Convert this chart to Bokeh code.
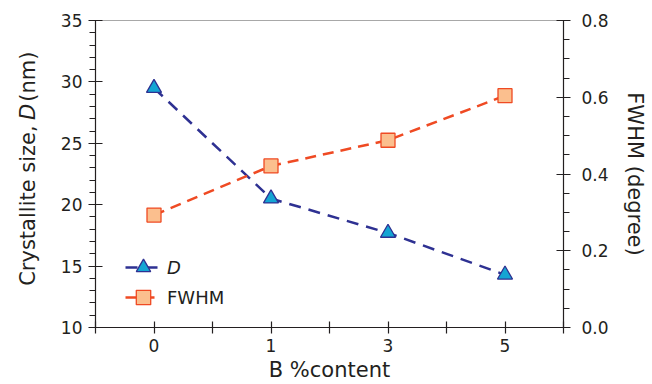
import numpy as np
from bokeh.plotting import figure
from bokeh.layouts import row
from bokeh.core.properties import value
from bokeh.models import (Range1d, LinearAxis, FixedTicker, CustomJSTickFormatter,
                          NumeralTickFormatter, Legend, LegendItem)
from bokeh.embed import file_html
from bokeh.resources import INLINE

# ---- data ----
x_labels = ["0", "1", "3", "5"]
crystallite_D = [29.5, 20.5, 17.7, 14.3]
fwhm = [0.293, 0.421, 0.488, 0.604]
left_ticks = [10, 15, 20, 25, 30, 35]
right_ticks = [0.0, 0.2, 0.4, 0.6, 0.8]

# ---- layout ----
TOTAL_W, H = 652, 384
LW = 40                      # width of the strip holding the left title
W = TOTAL_W - LW
BL, BR, BT, BB = 95 - LW, 89, 20, 56
FONT = "DejaVu Sans"
TXT = "#231f20"
AX = "#231f20"
LABEL_FS = 21

D_LINE = "#2e3192"
D_FILL = "#14a5d3"
F_LINE = "#ef4a23"
F_FILL = "#fbbf8e"

xs = list(range(len(x_labels)))

p = figure(width=W, height=H, output_backend="svg", toolbar_location=None,
           x_range=Range1d(xs[0] - 0.5, xs[-1] + 0.5),
           y_range=Range1d(left_ticks[0], left_ticks[-1]),
           min_border_left=BL, min_border_right=BR,
           min_border_top=BT, min_border_bottom=BB,
           x_axis_location=None, y_axis_location=None)
p.extra_y_ranges = {"fwhm": Range1d(right_ticks[0], right_ticks[-1])}
p.xgrid.visible = False
p.ygrid.visible = False
p.outline_line_color = "#a8a8a8"
p.outline_line_width = 1
p.background_fill_color = "white"
p.border_fill_color = "white"


def style_axis(ax):
    ax.axis_line_color = AX
    ax.axis_line_width = 1.2
    ax.major_tick_line_color = AX
    ax.minor_tick_line_color = AX
    ax.major_tick_line_width = 1.2
    ax.minor_tick_line_width = 1.0
    ax.major_label_text_font = FONT
    ax.major_label_text_font_size = "17px"
    ax.major_label_text_color = TXT
    ax.axis_label_text_font = FONT
    ax.axis_label_text_font_size = f"{LABEL_FS}px"
    ax.axis_label_text_font_style = "normal"
    ax.axis_label_text_color = TXT


# x axis
half_ticks = [x - 0.5 for x in xs] + [xs[-1] + 0.5]
xaxis = LinearAxis(ticker=FixedTicker(ticks=sorted(xs + half_ticks)),
                   formatter=CustomJSTickFormatter(args=dict(labels=x_labels), code="""
                       const i = Math.round(tick);
                       if (Math.abs(tick - i) < 1e-6 && i >= 0 && i < labels.length) return labels[i];
                       return '';
                   """),
                   axis_label="B %content")
style_axis(xaxis)
xaxis.major_tick_in = 6
xaxis.major_tick_out = 6
xaxis.minor_tick_in = 0
xaxis.minor_tick_out = 0
xaxis.major_label_standoff = 5
xaxis.axis_label_standoff = 3
p.add_layout(xaxis, "below")

# left axis
lminor = list(np.arange(left_ticks[0], left_ticks[-1] + 0.01, 1.0))
yaxis = LinearAxis(ticker=FixedTicker(ticks=left_ticks, minor_ticks=lminor))
style_axis(yaxis)
yaxis.major_tick_in = 7
yaxis.major_tick_out = 7
yaxis.minor_tick_in = 0
yaxis.minor_tick_out = 6
yaxis.major_label_standoff = 6
p.add_layout(yaxis, "left")

# right axis
rminor = list(np.arange(right_ticks[0], right_ticks[-1] + 0.001, 0.05))
raxis = LinearAxis(y_range_name="fwhm",
                   ticker=FixedTicker(ticks=right_ticks, minor_ticks=rminor),
                   formatter=NumeralTickFormatter(format="0.0"),
                   axis_label="FWHM (degree)")
style_axis(raxis)
raxis.major_tick_in = 7
raxis.major_tick_out = 7
raxis.minor_tick_in = 0
raxis.minor_tick_out = 6
raxis.major_label_standoff = 11
raxis.axis_label_standoff = 11
p.add_layout(raxis, "right")

# ---- series ----
lD = p.line(xs, crystallite_D, line_color=D_LINE, line_width=2.5, line_dash="12 8")
sD = p.scatter(xs, crystallite_D, marker="triangle", size=15,
               fill_color=D_FILL, line_color=D_LINE, line_width=1.3)
lF = p.line(xs, fwhm, y_range_name="fwhm", line_color=F_LINE, line_width=2.5, line_dash="11 7")
sF = p.scatter(xs, fwhm, y_range_name="fwhm", marker="square", size=14,
               fill_color=F_FILL, line_color=F_LINE, line_width=1.3)


def make_legend(label, rends, loc, style):
    lg = Legend(items=[LegendItem(label=label, renderers=rends)], location=loc,
                label_text_font=FONT, label_text_font_size="18px",
                label_text_font_style=style, label_text_color=TXT,
                glyph_width=36, glyph_height=36, label_height=20,
                label_standoff=6, padding=0, margin=0, spacing=0,
                border_line_alpha=0, background_fill_alpha=0)
    p.add_layout(lg)


make_legend("D", [lD, sD], (30, 42), "italic")
make_legend("FWHM", [lF, sF], (30, 12), "normal")

# ---- left title strip: "Crystallite size, D (nm)" with italic D ----
t = figure(width=LW, height=H, output_backend="svg", toolbar_location=None,
           x_range=Range1d(0, LW), y_range=Range1d(0, H),
           min_border=0, x_axis_location=None, y_axis_location=None)
t.xgrid.visible = False
t.ygrid.visible = False
t.outline_line_color = None
t.border_fill_color = "white"
t.background_fill_color = "white"

# advance widths (DejaVu Sans, 1/2048 em)
em = LABEL_FS / 2048.0
w_part1 = 15652 * em   # "Crystallite size,"
w_space = 651 * em
w_D = 1577 * em
w_part3 = 4891 * em    # "(nm)"
total = w_part1 + w_space + w_D + w_space + w_part3
center_y = H - 171.5
bottom = center_y - total / 2
cx = 27

common = dict(angle=np.pi / 2, text_font=value(FONT), text_font_size=value(f"{LABEL_FS}px"),
              text_color=TXT, text_baseline="middle")
t.text(x=[cx], y=[bottom + w_part1], text=["Crystallite size,"], text_align="right", **common)
t.text(x=[cx], y=[bottom + w_part1 + w_space], text=["D"], text_align="left",
       text_font_style="italic", **common)
t.text(x=[cx], y=[bottom + w_part1 + 2 * w_space + w_D], text=["(nm)"], text_align="left", **common)

layout = row(t, p, spacing=0)
open("out.html", "w").write(file_html(layout, INLINE))
